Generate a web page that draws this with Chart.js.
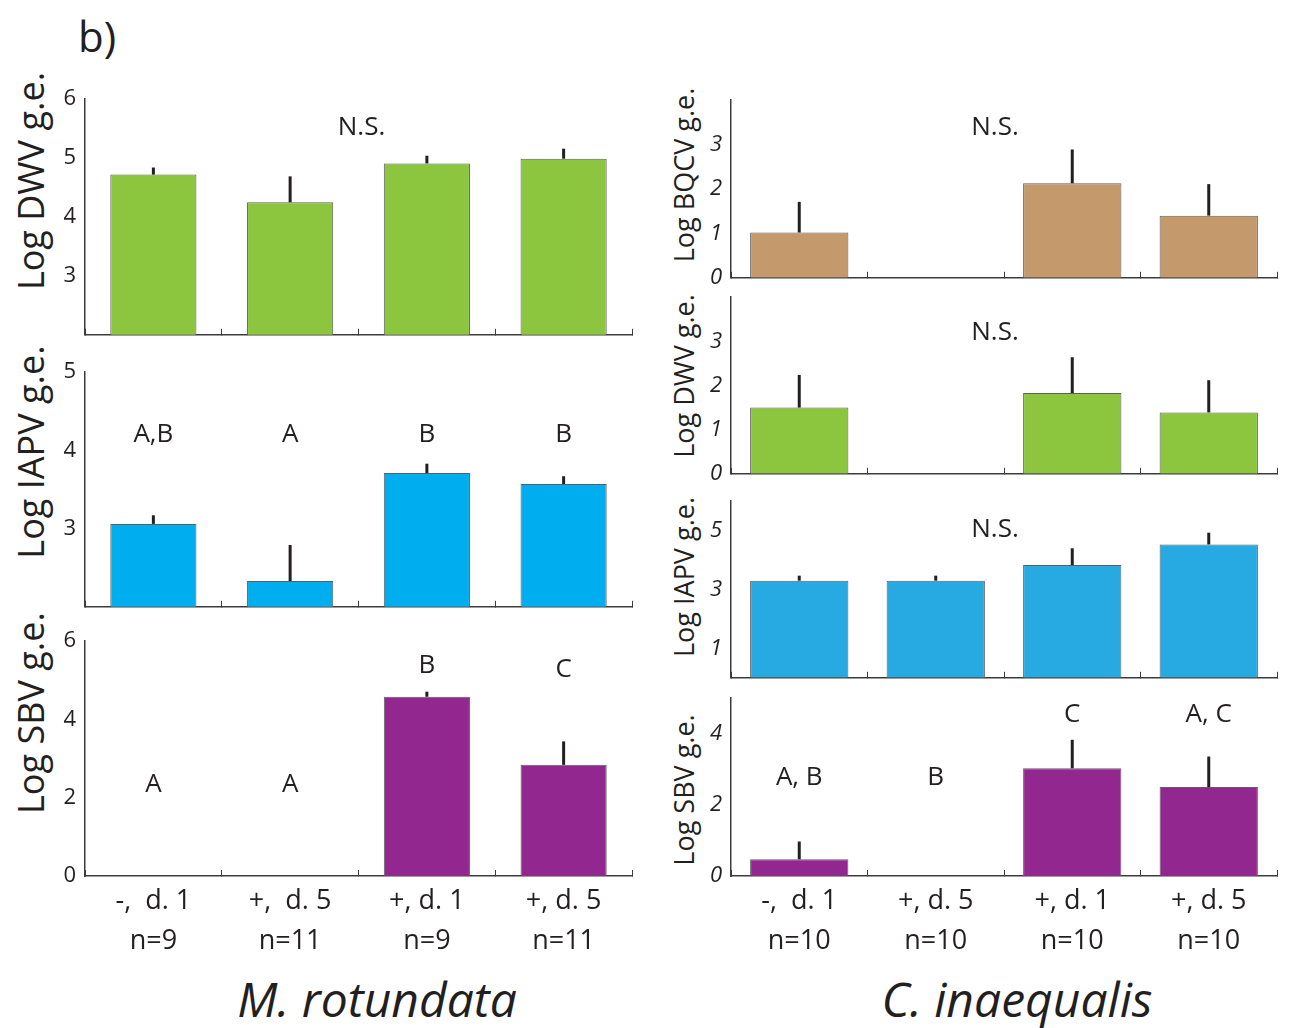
<!DOCTYPE html>
<html>
<head>
<meta charset="utf-8">
<script src="https://cdn.jsdelivr.net/npm/chart.js@4.4.1/dist/chart.umd.min.js"></script>
<style>
  body { margin: 0; background: #fff; }
  #fig { position: relative; width: 1289px; height: 1028px; overflow: hidden; font-family: 'Open Sans', sans-serif; color: #231f20; }
  #fig canvas { position: absolute; }
  .txt { position: absolute; white-space: nowrap; transform: translate(-50%, -50%); }
  .ylab { position: absolute; white-space: nowrap; transform: translate(-50%, -50%) rotate(-90deg); }
</style>
</head>
<body>
<div id="fig">
  <div class="txt" style="left:97px; top:35px; font-size:42px;">b)</div>
  <div class="ylab" style="left:30px; top:181px; font-size:36px;">Log DWV g.e.</div>
  <div class="ylab" style="left:30px; top:452px; font-size:36px;">Log IAPV g.e.</div>
  <div class="ylab" style="left:30px; top:713px; font-size:36px;">Log SBV g.e.</div>
  <div class="ylab" style="left:683px; top:175px; font-size:27px;">Log BQCV g.e.</div>
  <div class="ylab" style="left:683px; top:376px; font-size:27px;">Log DWV g.e.</div>
  <div class="ylab" style="left:683px; top:577px; font-size:27px;">Log IAPV g.e.</div>
  <div class="ylab" style="left:683px; top:790px; font-size:27px;">Log SBV g.e.</div>
  <div class="txt" style="left:377px; top:998px; font-size:48px; font-style:italic;">M. rotundata</div>
  <div class="txt" style="left:1017px; top:998px; font-size:48px; font-style:italic;">C. inaequalis</div>
</div>
<script>
// groups (treatment, day) and sample sizes
const groupsMr = ['-,  d. 1', '+,  d. 5', '+, d. 1', '+, d. 5'];
const nMr = ['n=9', 'n=11', 'n=9', 'n=11'];
const groupsCi = ['-,  d. 1', '+, d. 5', '+, d. 1', '+, d. 5'];
const nCi = ['n=10', 'n=10', 'n=10', 'n=10'];

// M. rotundata
const mrDwv = [4.72, 4.25, 4.91, 4.99];
const mrDwvSe = [0.12, 0.44, 0.13, 0.17];
const mrDwvTicks = [3, 4, 5, 6];

const mrIapv = [3.06, 2.33, 3.71, 3.57];
const mrIapvSe = [0.11, 0.46, 0.12, 0.10];
const mrIapvTicks = [3, 4, 5];
const mrIapvLetters = ['A,B', 'A', 'B', 'B'];
const mrIapvLetterAt = [4.2, 4.2, 4.2, 4.2];

const mrSbv = [0, 0, 4.58, 2.84];
const mrSbvSe = [null, null, 0.13, 0.60];
const mrSbvTicks = [0, 2, 4, 6];
const mrSbvLetters = ['A', 'A', 'B', 'C'];
const mrSbvLetterAt = [2.33, 2.33, 5.37, 5.27];

// C. inaequalis
const ciBqcv = [1.02, 0, 2.13, 1.40];
const ciBqcvSe = [0.69, null, 0.76, 0.71];
const ciBqcvTicks = [0, 1, 2, 3];

const ciDwv = [1.50, 0, 1.83, 1.39];
const ciDwvSe = [0.74, null, 0.81, 0.73];
const ciDwvTicks = [0, 1, 2, 3];

const ciIapv = [3.30, 3.30, 3.83, 4.53];
const ciIapvSe = [0.17, 0.17, 0.57, 0.40];
const ciIapvTicks = [1, 3, 5];

const ciSbv = [0.47, 0, 3.03, 2.50];
const ciSbvSe = [0.50, null, 0.80, 0.86];
const ciSbvTicks = [0, 2, 4];
const ciSbvLetters = ['A, B', 'B', 'C', 'A, C'];
const ciSbvLetterAt = [2.78, 2.78, 4.55, 4.55];

const FONT = "'Open Sans', sans-serif";
const INK = '#231f20';
const AXIS = '#3c3c3c';
const PAD = 20, YW = 60, PR = 10;

function decor(p) {
  return {
    id: 'decor',
    afterDatasetsDraw(chart) {
      const ctx = chart.ctx;
      const xs = chart.scales.x, ys = chart.scales.y;
      const bars = chart.getDatasetMeta(0).data;
      ctx.save();
      ctx.strokeStyle = INK;
      ctx.lineWidth = 3;
      p.se.forEach((e, i) => {
        if (e == null) return;
        ctx.beginPath();
        ctx.moveTo(bars[i].x, ys.getPixelForValue(p.values[i]));
        ctx.lineTo(bars[i].x, ys.getPixelForValue(p.values[i] + e));
        ctx.stroke();
      });
      ctx.fillStyle = INK;
      ctx.font = '26px ' + FONT;
      ctx.textAlign = 'center';
      ctx.textBaseline = 'middle';
      if (p.letters) {
        p.letters.forEach((t, i) => ctx.fillText(t, xs.getPixelForValue(i), ys.getPixelForValue(p.letterAt[i])));
      }
      if (p.nsAt != null) {
        const mid = (xs.getPixelForValue(1) + xs.getPixelForValue(2)) / 2;
        ctx.fillText('N.S.', mid - p.nsShift, ys.getPixelForValue(p.nsAt));
      }
      ctx.restore();
    }
  };
}

function panel(p) {
  const xH = p.bottom ? 90 : 2;
  const cv = document.createElement('canvas');
  const w = YW + p.w + PR, h = PAD + p.h + xH + PAD;
  cv.width = w; cv.height = h;
  cv.style.left = (p.x - YW) + 'px';
  cv.style.top = (p.y - PAD) + 'px';
  cv.style.width = w + 'px';
  cv.style.height = h + 'px';
  document.getElementById('fig').appendChild(cv);

  const labels = p.groups.map((g, i) => [g, p.n[i]]);
  new Chart(cv, {
    type: 'bar',
    data: {
      labels,
      datasets: [{
        data: p.values,
        backgroundColor: p.color,
        borderColor: '#5e5e5e',
        borderWidth: 1,
        barPercentage: p.barPct,
        categoryPercentage: 1
      }]
    },
    options: {
      responsive: false,
      animation: false,
      layout: { padding: { top: PAD, bottom: PAD, left: 0, right: PR } },
      plugins: { legend: { display: false }, tooltip: { enabled: false } },
      scales: {
        x: {
          offset: true,
          grid: { display: true, offset: true, drawOnChartArea: false, drawTicks: true, tickLength: -6, color: AXIS, lineWidth: 1 },
          border: { display: true, color: AXIS, width: 1.5 },
          ticks: {
            display: p.bottom, padding: 11, color: INK, maxRotation: 0, autoSkip: false,
            font: { family: FONT, size: 27, lineHeight: 1.48 }
          },
          afterFit: s => { s.height = xH; }
        },
        y: {
          min: p.min, max: p.max,
          afterBuildTicks: s => { s.ticks = p.ticks.map(v => ({ value: v })); },
          grid: { display: false, drawTicks: false },
          border: { display: true, color: AXIS, width: 1.5 },
          ticks: {
            padding: 9, color: INK,
            font: { family: FONT, size: p.tickSize, style: p.tickStyle }
          },
          afterFit: s => { s.width = YW; }
        }
      }
    },
    plugins: [decor(p)]
  });
}

const green = '#8cc63f', blueMr = '#00aeef', blueCi = '#27aae1', tan = '#c49a6c', purple = '#92278f';

// left column: M. rotundata
const L = { x: 85, w: 547, groups: groupsMr, n: nMr, barPct: 0.63, tickSize: 22, tickStyle: 'normal', nsShift: -3 };
panel({ ...L, y: 97, h: 238, min: 2, max: 6, ticks: mrDwvTicks, values: mrDwv, se: mrDwvSe, color: green, nsAt: 5.51 });
panel({ ...L, y: 370, h: 237, min: 2, max: 5, ticks: mrIapvTicks, values: mrIapv, se: mrIapvSe, color: blueMr,
  letters: mrIapvLetters, letterAt: mrIapvLetterAt });
panel({ ...L, y: 639, h: 237, min: 0, max: 6, ticks: mrSbvTicks, values: mrSbv, se: mrSbvSe, color: purple,
  letters: mrSbvLetters, letterAt: mrSbvLetterAt, bottom: true });

// right column: C. inaequalis
const R = { x: 731, w: 546, groups: groupsCi, n: nCi, barPct: 0.72, tickSize: 22, tickStyle: 'italic', nsShift: 9 };
panel({ ...R, y: 98, h: 180, min: 0, max: 4, ticks: ciBqcvTicks, values: ciBqcv, se: ciBqcvSe, color: tan, nsAt: 3.38 });
panel({ ...R, y: 295, h: 179, min: 0, max: 4, ticks: ciDwvTicks, values: ciDwv, se: ciDwvSe, color: green, nsAt: 3.2 });
panel({ ...R, y: 499, h: 179, min: 0, max: 6, ticks: ciIapvTicks, values: ciIapv, se: ciIapvSe, color: blueCi, nsAt: 5.03 });
panel({ ...R, y: 696, h: 180, min: 0, max: 5, ticks: ciSbvTicks, values: ciSbv, se: ciSbvSe, color: purple,
  letters: ciSbvLetters, letterAt: ciSbvLetterAt, bottom: true });
</script>
</body>
</html>
